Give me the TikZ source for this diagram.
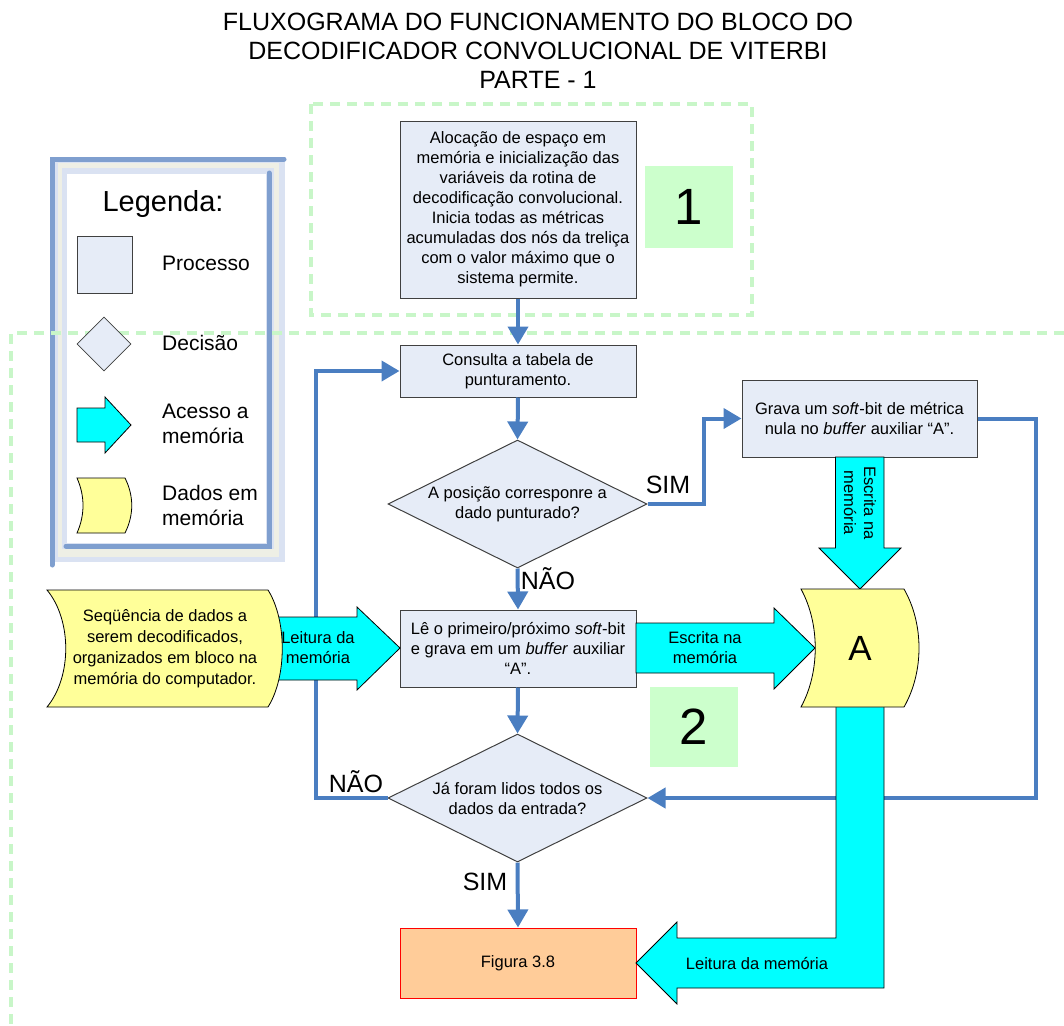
\documentclass[tikz,border=0pt]{standalone}
\usepackage{fontspec}
\setmainfont{Liberation Sans}
\usetikzlibrary{arrows.meta,shapes.geometric}

\definecolor{boxfill}{RGB}{230,236,247}
\definecolor{boxline}{RGB}{64,64,64}
\definecolor{flowblue}{RGB}{74,126,193}
\definecolor{memcyan}{RGB}{0,255,255}
\definecolor{datayellow}{RGB}{255,255,153}
\definecolor{stagegreen}{RGB}{204,255,204}
\definecolor{dashgreen}{RGB}{200,246,200}
\definecolor{figfill}{RGB}{255,204,153}
\definecolor{legblue}{RGB}{127,159,207}
\definecolor{legpale}{RGB}{218,226,242}
\definecolor{legbeige}{RGB}{238,239,229}

\newcommand{\fsz}[2]{\fontsize{#1}{#2}\selectfont}

\begin{document}
\begin{tikzpicture}[x=1pt,y=-1pt,
  process/.style={draw=boxline,line width=1pt,fill=boxfill,minimum width=236pt,
    inner sep=0pt,align=center,font=\fsz{16.5}{20}},
  decision/.style={diamond,draw=boxline,line width=1pt,fill=boxfill,
    minimum width=259pt,minimum height=128pt,inner sep=0pt},
  boxtext/.style={align=center,font=\fsz{16.5}{20},inner sep=0pt},
  conn/.style={draw=flowblue,line width=4pt,-{Triangle[width=20pt,length=18pt]}},
  answer/.style={font=\fsz{25}{28},inner sep=0pt},
  memarrow/.style={draw=black,line width=0.8pt,fill=memcyan},
  memdata/.style={draw=black,line width=0.8pt,fill=datayellow},
  stagebox/.style={fill=stagegreen,inner sep=0pt,font=\fsz{51}{56}},
  stageline/.style={draw=dashgreen,line width=4pt,dash pattern=on 10pt off 7pt},
  legtext/.style={anchor=west,align=left,font=\fsz{21}{25},inner sep=0pt}
]
\useasboundingbox (0,0) rectangle (1064,1025);

% title
\node[align=center,font=\fsz{25}{29}] (title) at (538,51)
  {FLUXOGRAMA DO FUNCIONAMENTO DO BLOCO DO\\DECODIFICADOR CONVOLUCIONAL DE VITERBI\\PARTE - 1};

% legend frame
\fill[legpale] (52,159) rectangle (285,562);
\fill[legbeige] (58,163) rectangle (279,557);
\fill[legpale] (62,168) rectangle (274,549);
\fill[white] (67,174) rectangle (266,543);
\draw[legblue,line width=5pt,line cap=round] (52,565) -- (52,159) -- (284,159);
\draw[legblue,line width=5pt,line cap=round] (269,173) -- (269,546) -- (66,546);

% stage outlines
\draw[stageline] (311,104) rectangle (752,315);
\draw[stageline] (1064,333) -- (11,333) -- (11,1025);

% legend entries
\node[font=\fsz{29}{32}] (legtitle) at (163,204) {Legenda:};
\node[draw=boxline,line width=0.8pt,fill=boxfill,minimum width=55pt,minimum height=57pt,inner sep=0pt] (legproc) at (104.5,264.5) {};
\node[legtext] (legproctxt) at (162,263) {Processo};
\node[diamond,draw=boxline,line width=0.8pt,fill=boxfill,minimum width=54pt,minimum height=54pt,inner sep=0pt] (legdec) at (104,344) {};
\node[legtext] (legdectxt) at (162,343) {Decisão};
\draw[memarrow] (77,408) -- (105,408) -- (105,397) -- (131,425) -- (105,453) -- (105,442) -- (77,442) -- cycle;
\node[legtext] (legmemtxt) at (162,424) {Acesso a\\memória};
\draw[memdata] (77,478) -- (125,478) .. controls (134,496) and (134,515) .. (125,533)
  -- (77,533) .. controls (85,515) and (85,496) .. (77,478) -- cycle;
\node[legtext] (legdatatxt) at (162,505) {Dados em\\memória};

% process and decision nodes
\node[process,minimum height=177pt] (init) at (518,209.5)
  {Alocação de espaço em\\memória e inicialização das\\variáveis da rotina de\\decodificação convolucional.\\Inicia todas as métricas\\acumuladas dos nós da treliça\\com o valor máximo que o\\sistema permite.};
\node[stagebox,minimum width=88pt,minimum height=82pt] (stage1) at (689,207) {1};

\node[process,minimum height=52pt] (consulta) at (518,371) {Consulta a tabela de\\punturamento.};
\node[decision] (d1) at (517.5,504) {};
\node[boxtext] (d1txt) at (517.5,504) {A posição corresponre a\\dado punturado?};

\node[process,minimum width=235pt,minimum height=77pt] (grava) at (859.5,418.5)
  {Grava um \textit{soft}-bit de métrica\\nula no \textit{buffer} auxiliar “A”.};

\node[process,minimum height=77pt] (le) at (518,648.5)
  {Lê o primeiro/próximo \textit{soft}-bit\\e grava em um \textit{buffer} auxiliar\\“A”.};
\node[stagebox,minimum width=88pt,minimum height=80pt] (stage2) at (694,727) {2};

\node[decision] (d2) at (517.5,798) {};
\node[boxtext] (d2txt) at (517.5,798) {Já foram lidos todos os\\dados da entrada?};

\node[draw=red,line width=1pt,fill=figfill,minimum width=236pt,minimum height=70pt,
  inner sep=0pt,font=\fsz{16.5}{20}] (fig) at (518,963) {Figura 3.8};

% flow connectors
\draw[conn] (init.south) -- (consulta.north);
\draw[conn] (consulta.south) -- (d1.north);
\draw[conn] (d1.south) -- (le.north);
\draw[conn] (le.south) -- (d2.north);
\draw[conn] (d2.south) -- (fig.north);
\draw[conn] (d1.east) -- ++(56,0) |- (grava.west);
\draw[conn] (grava.east) -- ++(58,0) |- (d2.east);
\draw[conn] (d2.west) -- ++(-72,0) |- (consulta.west);

\node[answer] (sim1) at (668,485) {SIM};
\node[answer] (nao1) at (548,579) {NÃO};
\node[answer] (nao2) at (356,782) {NÃO};
\node[answer] (sim2) at (485,882) {SIM};

% memory access arrows
\draw[memarrow] (272,617) -- (357,617) -- (357,607) -- (400,648) -- (357,690)
  -- (357,680) -- (272,680) -- cycle;
\draw[memarrow] (636,623) -- (774,623) -- (774,608) -- (815,648) -- (774,689)
  -- (774,673) -- (636,673) -- cycle;
\draw[memarrow] (835.5,457) -- (835.5,548) -- (819,548) -- (860,589) -- (901,548)
  -- (884,548) -- (884,457) -- cycle;
\draw[memarrow] (836,705) -- (836,938) -- (677,938) -- (677,922) -- (636,963)
  -- (677,1004) -- (677,988) -- (884,988) -- (884,705) -- cycle;

% data in memory
\draw[memdata] (47,590) -- (268,590) .. controls (287,620) and (287,677) .. (268,707)
  -- (47,707) .. controls (72,677) and (72,620) .. (47,590) -- cycle;
\node[boxtext,font=\fsz{16.5}{21}] (input) at (165,648.5)
  {Seqüência de dados a\\serem decodificados,\\organizados em bloco na\\memória do computador.};
\draw[memdata] (801,589) -- (904,589) .. controls (924,624) and (924,672) .. (904,707)
  -- (801,707) .. controls (820,672) and (820,624) .. (801,589) -- cycle;
\node[font=\fsz{35}{40},inner sep=0pt] (memA) at (860,648) {A};

% arrow captions
\node[boxtext] (rd1) at (318,647.5) {Leitura da\\memória};
\node[boxtext] (wr1) at (705,647.5) {Escrita na\\memória};
\node[boxtext,rotate=-90] (wr2) at (860,503) {Escrita na\\memória};
\node[boxtext] (rd2) at (757,963) {Leitura da memória};
\end{tikzpicture}
\end{document}
